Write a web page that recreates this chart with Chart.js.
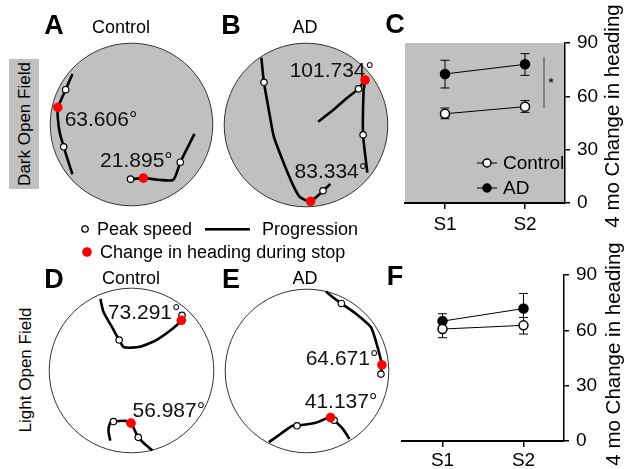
<!DOCTYPE html>
<html><head><meta charset="utf-8">
<script src="https://cdn.jsdelivr.net/npm/chart.js@4"></script>
<style>
html,body{margin:0;padding:0;background:#fff;}
#fig{position:relative;width:624px;height:469px;overflow:hidden;font-family:'Liberation Sans',Arial,sans-serif;color:#000;background:#fff;}
canvas{position:absolute;}
.t{position:absolute;white-space:nowrap;line-height:1;}
</style></head>
<body><div id="fig"></div>
<script>
// ---------- DATA ----------
// Arena paths (arena units: 0..100 across the arena, y up)
const A_path1 = [[13.7,81.0],[11.3,75.6],[9.5,71.4],[6.5,64.8],[4.7,60.5],[4.7,53.9],[5.9,44.8],[8.3,36.3],[10.7,28.5],[13.7,19.4]];
const A_path2 = [[49.4,16.4],[57.3,17.0],[75.4,15.8],[80.0,26.8],[88.7,44.2]];
const A_peak  = [[9.5,71.4],[8.3,36.3],[49.4,16.4],[80.0,26.8]];
const A_stop  = [[4.7,60.5],[57.3,17.0]];
const A_angles = ['63.606°','21.895°'];
const A_anglePos = [[8.9,52.7],[30.7,27.3]];

const B_path1 = [[22.7,91.1],[24.3,76.1],[27.3,59.0],[30.3,43.0],[36.3,26.9],[42.3,12.8],[46.4,5.8],[52.8,3.4],[58.4,7.8],[60.4,9.8],[64.9,13.9]];
const B_path2 = [[57.4,52.0],[66.4,59.0],[74.5,66.1],[82.1,72.1],[86.1,77.5],[85.2,71.1],[84.9,44.0],[87.5,20.9]];
const B_peak  = [[24.3,76.1],[60.4,9.8],[82.1,72.1],[84.9,44.0]];
const B_stop  = [[52.8,3.4],[86.1,77.5]];
const B_angles = ['101.734°','83.334°'];
const B_anglePos = [[40.0,83.1],[43.0,21.1]];

const D_path1 = [[31.1,93.5],[33.0,85.5],[38.1,76.5],[42.5,68.5],[45.5,64.1],[55.1,64.4],[65.1,68.5],[75.1,75.5],[80.3,80.5],[80.7,83.5]];
const D_path2 = [[37.1,7.4],[36.0,13.4],[37.1,18.4],[39.0,19.0],[46.1,19.4],[49.7,18.0],[52.1,13.4],[54.1,9.4],[59.1,4.4],[62.7,1.4]];
const D_peak  = [[42.5,68.5],[80.7,83.5],[39.0,19.0],[54.1,9.4]];
const D_stop  = [[80.3,80.5],[49.7,18.0]];
const D_angles = ['73.291°','56.987°'];
const D_anglePos = [[35.6,84.7],[50.6,25.2]];

const E_path1 = [[61.6,98.6],[66.0,94.9],[71.0,91.3],[80.1,84.9],[89.1,76.8],[92.2,67.8],[95.2,56.7],[95.8,53.7],[95.2,48.1]];
const E_path2 = [[26.7,6.5],[33.8,11.5],[40.9,16.5],[43.9,16.5],[55.9,18.5],[62.9,21.5],[64.4,21.5],[66.6,19.9],[72.0,14.5],[76.0,8.4]];
const E_peak  = [[71.0,91.3],[95.2,48.1],[43.9,16.5],[66.6,19.9]];
const E_stop  = [[95.8,53.7],[64.4,21.5]];
const E_angles = ['64.671°','41.137°'];
const E_anglePos = [[49.2,57.3],[48.6,30.8]];

// Summary panels
const sessions = ['S1','S2'];
const yTicks = [0,30,60,90];
const C_control = [50.2,54.2];
const C_controlLo = [47.4,51.0];
const C_controlHi = [53.4,57.6];
const C_ad = [72.6,78.0];
const C_adLo = [64.7,71.8];
const C_adHi = [80.3,84.0];
const F_control = [60.7,62.7];
const F_controlLo = [56.0,58.0];
const F_controlHi = [64.0,67.0];
const F_ad = [65.0,71.8];
const F_adLo = [61.0,63.0];
const F_adHi = [69.0,80.0];
const C_sig = [53.5,82.0];

// ---------- LAYOUT ----------
const FAM = "'Liberation Sans', Arial, sans-serif";
const fig = document.getElementById('fig');
function txt(s, cx, cy, size, opt){
  opt = opt||{};
  const d = document.createElement('div');
  d.className='t';
  d.textContent = s;
  d.style.fontSize = size+'px';
  if(opt.bold) d.style.fontWeight='bold';
  if(opt.bg){ d.style.background=opt.bg; d.style.padding=opt.pad||'0'; }
  d.style.left = cx+'px'; d.style.top = cy+'px';
  d.style.transform = 'translate(-50%,-50%)' + (opt.rot? ' rotate(-90deg)':'');
  fig.appendChild(d);
  return d;
}
function mkCanvas(l,t,w,h){
  const c=document.createElement('canvas');
  c.width=w;c.height=h;c.style.left=l+'px';c.style.top=t+'px';c.style.width=w+'px';c.style.height=h+'px';
  fig.appendChild(c);return c;
}
const pts = a => a.map(p=>({x:p[0],y:p[1]}));

function arena(box, paths, peaks, stops, angles, anglePos, fill){
  const P=4;
  const c = mkCanvas(box[0]-P, box[1]-P, box[2]+2*P, box[2]+2*P);
  const ds=[];
  ds.push({data:pts(stops), showLine:false, pointRadius:4.8, pointBackgroundColor:'#ff0000', pointBorderWidth:0, order:0});
  ds.push({data:pts(peaks), showLine:false, pointRadius:3.2, pointBackgroundColor:'#fff', pointBorderColor:'#000', pointBorderWidth:1.2, order:1});
  paths.forEach(p=>ds.push({data:pts(p), showLine:true, pointRadius:0, borderColor:'#000', borderWidth:2.6, tension:0.2, order:2}));
  new Chart(c,{type:'scatter', data:{datasets:ds},
    options:{animation:false,responsive:false,events:[],layout:{padding:P},
      plugins:{legend:{display:false},tooltip:{enabled:false}},
      scales:{x:{type:'linear',min:0,max:100,display:false},y:{type:'linear',min:0,max:100,display:false}}},
    plugins:[{id:'arena',beforeDatasetsDraw(ch){
      const g=ch.ctx, x=ch.scales.x, y=ch.scales.y;
      const cx=x.getPixelForValue(50), cy=y.getPixelForValue(50), r=(x.getPixelForValue(100)-x.getPixelForValue(0))/2;
      g.save();g.beginPath();g.arc(cx,cy,r,0,Math.PI*2);g.fillStyle=fill;g.fill();g.lineWidth=1;g.strokeStyle='#333';g.stroke();
      g.fillStyle='#111';g.font='21px '+FAM;g.textAlign='left';g.textBaseline='middle';
      angles.forEach((s,i)=>g.fillText(s,x.getPixelForValue(anglePos[i][0]),y.getPixelForValue(anglePos[i][1])));
      g.restore();
    }}]
  });
}

arena([49,42,165], [A_path1,A_path2], A_peak, A_stop, A_angles, A_anglePos, '#c0c0c0');
arena([223,42,166], [B_path1,B_path2], B_peak, B_stop, B_angles, B_anglePos, '#c0c0c0');
arena([48,287,167], [D_path1,D_path2], D_peak, D_stop, D_angles, D_anglePos, '#ffffff');
arena([224,288,166], [E_path1,E_path2], E_peak, E_stop, E_angles, E_anglePos, '#ffffff');

function summary(l,t,w,h,pad,axisW,axisH,ctrl,cLo,cHi,ad,aLo,aHi,opts){
  const c=mkCanvas(l,t,w,h);
  const common={borderColor:'#000',borderWidth:1,pointRadius:4.5,pointBorderColor:'#000',pointBorderWidth:1.5,fill:false,tension:0};
  new Chart(c,{type:'line',
    data:{labels:sessions,datasets:[
      Object.assign({label:'Control',data:ctrl,pointBackgroundColor:'#fff',order:0},common),
      Object.assign({label:'AD',data:ad,pointBackgroundColor:'#000',order:1},common)]},
    options:{animation:false,responsive:false,events:[],layout:{padding:pad},
      plugins:{legend:{display:false},tooltip:{enabled:false}},
      scales:{
        x:{type:'category',offset:true,
          grid:{display:true,drawOnChartArea:false,drawTicks:true,tickLength:6,color:'#000',lineWidth:1.5},
          border:{display:true,color:'#000',width:2},
          ticks:{color:'#000',font:{size:19,family:FAM},padding:opts.xPad,maxRotation:0},
          afterFit(s){s.height=axisH;}},
        y:{position:'right',min:0,max:90,
          afterBuildTicks(s){s.ticks=yTicks.map(v=>({value:v}));},
          grid:{drawOnChartArea:false,drawTicks:true,tickLength:5,color:'#000',lineWidth:1.5},
          border:{display:true,color:'#000',width:1.5},
          ticks:{color:'#000',font:{size:19,family:FAM},padding:7},
          afterFit(s){s.width=axisW;}}
      }},
    plugins:[{id:'bg',beforeDraw(ch){
        if(!opts.gray) return;
        const a=ch.chartArea,g=ch.ctx;g.save();g.fillStyle='#c0c0c0';g.fillRect(a.left,a.top,a.right-a.left,a.bottom-a.top);g.restore();
      },
      beforeDatasetsDraw(ch){
        const g=ch.ctx,x=ch.scales.x,y=ch.scales.y;
        g.save();g.strokeStyle='#000';g.lineWidth=1;
        [[cLo,cHi],[aLo,aHi]].forEach(([lo,hi])=>{
          lo.forEach((v,i)=>{
            const px=x.getPixelForValue(i),y1=y.getPixelForValue(v),y2=y.getPixelForValue(hi[i]);
            g.beginPath();g.moveTo(px,y1);g.lineTo(px,y2);
            g.moveTo(px-4.5,y1);g.lineTo(px+4.5,y1);g.moveTo(px-4.5,y2);g.lineTo(px+4.5,y2);g.stroke();
          });
        });
        if(opts.sig){
          const a=ch.chartArea, sx=a.right-21;
          g.strokeStyle='#555';g.lineWidth=1.2;g.beginPath();
          g.moveTo(sx,y.getPixelForValue(opts.sig[1]));g.lineTo(sx,y.getPixelForValue(opts.sig[0]));g.stroke();
          g.fillStyle='#223';g.font='bold 13px '+FAM;g.textAlign='center';g.textBaseline='middle';
          g.fillText('*',sx+7,y.getPixelForValue((opts.sig[0]+opts.sig[1])/2)+1);
        }
        g.restore();
      },
      afterDatasetsDraw(ch){
        if(!opts.legend) return;
        const a=ch.chartArea,g=ch.ctx;
        const rows=[['Control','#fff',a.bottom-40],['AD','#000',a.bottom-15]];
        g.save();
        rows.forEach(([lab,fc,ry])=>{
          const x0=a.left+72;
          g.strokeStyle='#000';g.lineWidth=1;g.beginPath();g.moveTo(x0,ry);g.lineTo(x0+20,ry);g.stroke();
          g.beginPath();g.arc(x0+10,ry,4,0,Math.PI*2);g.fillStyle=fc;g.fill();g.lineWidth=1.5;g.stroke();
          g.fillStyle='#000';g.font='19px '+FAM;g.textAlign='left';g.textBaseline='middle';
          g.fillText(lab,x0+26,ry+1);
        });
        g.restore();
      }}]
  });
}
summary(380,0,244,240,{left:25,top:43,right:0,bottom:0},59,37,C_control,C_controlLo,C_controlHi,C_ad,C_adLo,C_adHi,{gray:true,legend:true,sig:C_sig,xPad:4});
summary(380,250,244,219,{left:22,top:25,right:0,bottom:0},60,28,F_control,F_controlLo,F_controlHi,F_ad,F_adLo,F_adHi,{gray:false,legend:false,xPad:2});

// ---------- TEXT ----------
txt('A',54,25,27,{bold:true});
txt('B',231,25,27,{bold:true});
txt('C',395,24,27,{bold:true});
txt('D',54,279,27,{bold:true});
txt('E',231,279,27,{bold:true});
txt('F',395,276,27,{bold:true});
txt('Control',121,27,18);
txt('AD',305,27,18);
txt('Control',131,278,18);
txt('AD',305,278,18);
txt('Dark Open Field',24,124,17,{rot:true,bg:'#c0c0c0',pad:'7px 3px 6px 3px'});
txt('Light Open Field',25,370,17,{rot:true});
txt('4 mo Change in heading',612,116,20.5,{rot:true});
txt('4 mo Change in heading',613,354,20.5,{rot:true});

// key row
(function(){
  const k=mkCanvas(75,218,60,45);
  const g=k.getContext('2d');
  g.beginPath();g.arc(10,11,3.2,0,Math.PI*2);g.fillStyle='#fff';g.fill();g.lineWidth=1.3;g.strokeStyle='#000';g.stroke();
  g.beginPath();g.arc(12,34,4.8,0,Math.PI*2);g.fillStyle='#ff0000';g.fill();
  const l=mkCanvas(200,222,55,14);
  const h=l.getContext('2d');h.fillStyle='#000';h.fillRect(5,6,45,2.6);
})();
const kp=txt('Peak speed',0,229,18);kp.style.transform='translate(0,-50%)';kp.style.left='97px';
const kg=txt('Progression',0,229,18);kg.style.transform='translate(0,-50%)';kg.style.left='262px';
const kc=txt('Change in heading during stop',0,252,18);kc.style.transform='translate(0,-50%)';kc.style.left='100px';
</script>
</body></html>
